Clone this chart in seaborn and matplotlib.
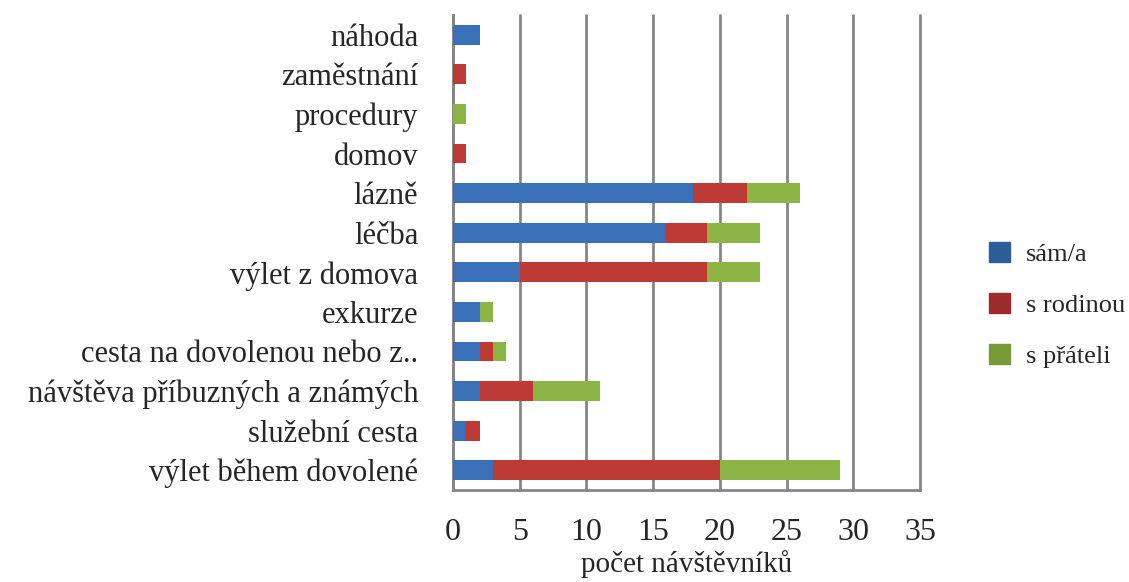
import pandas as pd
import matplotlib.pyplot as plt
import seaborn as sns
from matplotlib.patches import Patch

# data (top to bottom)
duvody = ["náhoda", "zaměstnání", "procedury", "domov", "lázně", "léčba",
          "výlet z domova", "exkurze", "cesta na dovolenou nebo z..",
          "návštěva příbuzných a známých", "služební cesta", "výlet během dovolené"]
sam = [2, 0, 0, 0, 18, 16, 5, 2, 2, 2, 1, 3]
s_rodinou = [0, 1, 0, 1, 4, 3, 14, 0, 1, 4, 1, 17]
s_prateli = [0, 0, 1, 0, 4, 4, 4, 1, 1, 5, 0, 9]

df = pd.DataFrame({"duvod": duvody, "sam": sam, "rodina": s_rodinou, "pratele": s_prateli})
df["c1"] = df["sam"]
df["c2"] = df["sam"] + df["rodina"]
df["c3"] = df["c2"] + df["pratele"]

sns.set_style("white")
plt.rcParams["font.family"] = ["Liberation Serif", "DejaVu Serif"]

fig = plt.figure(figsize=(11.29, 5.82), dpi=100)
ax = fig.add_axes([453 / 1129, 1 - 490 / 582, (920 - 453) / 1129, (490 - 15) / 582])

# stacked bars via overlay of cumulative sums
sns.barplot(data=df, y="duvod", x="c3", color="#8DB545", width=0.5, saturation=1, linewidth=0, ax=ax, zorder=3)
sns.barplot(data=df, y="duvod", x="c2", color="#BE3A36", width=0.5, saturation=1, linewidth=0, ax=ax, zorder=3)
sns.barplot(data=df, y="duvod", x="c1", color="#3A70B8", width=0.5, saturation=1, linewidth=0, ax=ax, zorder=3)

ax.set_xlim(0, 35)
ax.set_ylim(len(duvody) - 0.5, -0.5)
ax.set_xticks(range(0, 36, 5))
ax.grid(axis="x", color="#868686", linewidth=2, zorder=0)
ax.set_axisbelow(True)
for gl in ax.get_xgridlines():
    gl.set_clip_on(False)

for s in ["top", "right"]:
    ax.spines[s].set_visible(False)
for s in ["left", "bottom"]:
    ax.spines[s].set_color("#868686")
    ax.spines[s].set_linewidth(2)

ax.set_yticks(range(len(duvody)))
ax.set_yticklabels(duvody, fontsize=22)
ax.set_yticks([i - 0.5 for i in range(len(duvody) + 1)], minor=True)
ax.tick_params(axis="y", which="major", length=0, pad=25)
ax.tick_params(axis="y", which="minor", length=6, width=1.5, color="#868686", direction="out")
ax.tick_params(axis="x", length=8, width=2, color="#868686", labelsize=23, pad=12)

ax.set_ylabel("")
ax.set_xlabel("počet návštěvníků", fontsize=21, labelpad=2)

handles = [Patch(color="#2E5E98", label="sám/a"),
           Patch(color="#9E2B2B", label="s rodinou"),
           Patch(color="#779A37", label="s přáteli")]
fig.legend(handles=handles, loc="center left", bbox_to_anchor=(965 / 1129, 1 - 305 / 582),
           frameon=False, fontsize=19, handlelength=0.8, handleheight=0.8,
           handletextpad=0.6, labelspacing=1.0)

fig.savefig("out.png", dpi=100)
